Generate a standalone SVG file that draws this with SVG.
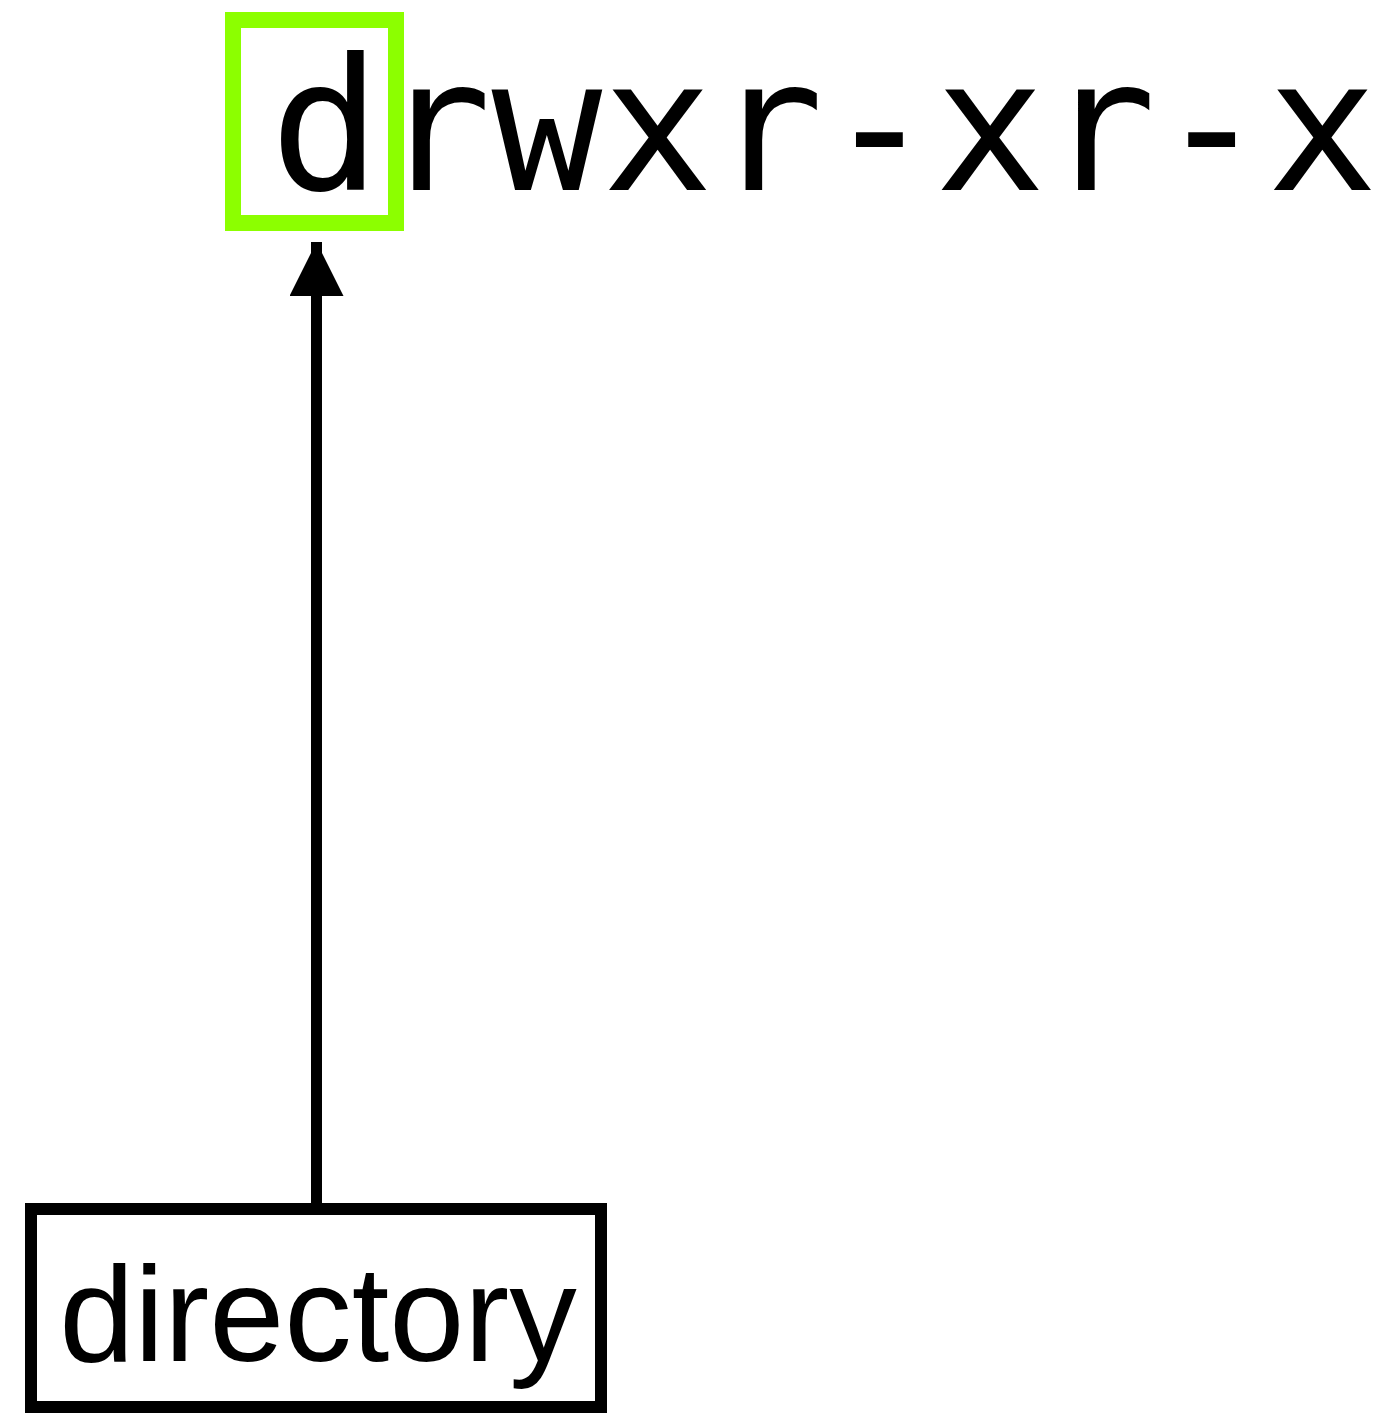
<svg xmlns="http://www.w3.org/2000/svg" width="1399" height="1413" viewBox="0 0 1399 1413">
<style>
.perm{font-family:"DejaVu Sans Mono","Liberation Mono",monospace;font-size:184px;fill:#000}
.lbl{font-family:"Liberation Sans",Arial,sans-serif;font-size:135px;fill:#000}
.box{fill:none;stroke:#000;stroke-width:12}
.hl{fill:none;stroke:#8CFF00;stroke-width:16}
.conn{stroke:#000;stroke-width:11;fill:none}
</style>
<defs>
<marker id="ah" markerUnits="userSpaceOnUse" markerWidth="54" markerHeight="54" refX="54" refY="27" orient="auto" viewBox="0 0 54 54">
<path d="M0,0 L54,27 L0,54 Z" fill="#000"/>
</marker>
</defs>
<rect width="1399" height="1413" fill="#fff"/>
<g id="permissions">
<text class="perm" x="270" y="190">drwxr-xr-x</text>
</g>
<g id="highlight">
<rect class="hl" x="233" y="20" width="163" height="203"/>
</g>
<g id="connectors">
<line class="conn" x1="316.5" y1="1203" x2="316.5" y2="242" marker-end="url(#ah)"/>
</g>
<g id="directory">
<rect class="box" x="31" y="1209" width="570" height="198"/>
<text class="lbl" x="318" y="1361" text-anchor="middle">directory</text>
</g>
</svg>
